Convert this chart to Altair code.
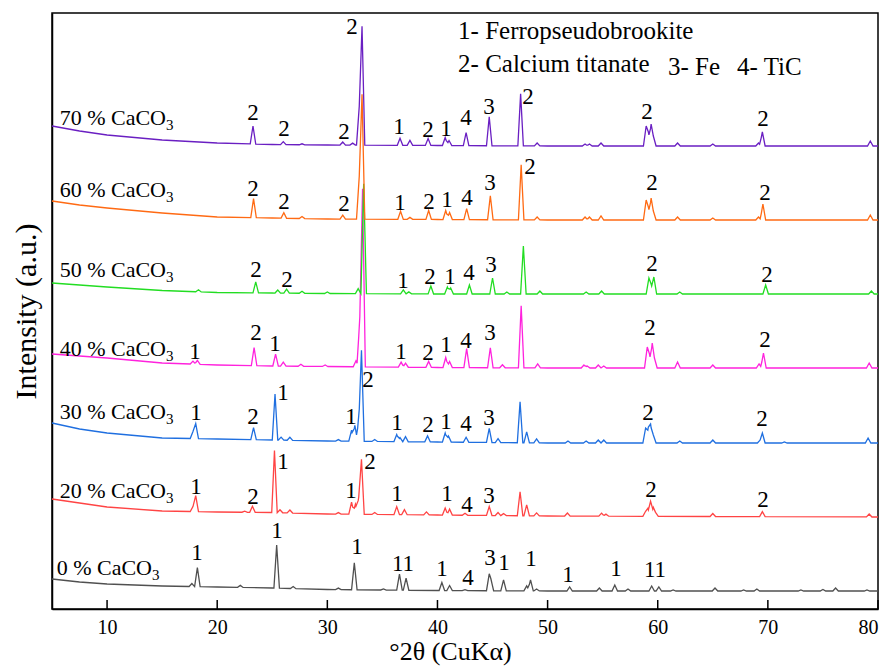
import altair as alt
import numpy as np
import pandas as pd

FONT = "Liberation Serif"

# ---------------- data ----------------
samples = ["0 % CaCO", "20 % CaCO", "30 % CaCO", "40 % CaCO", "50 % CaCO", "60 % CaCO", "70 % CaCO"]
colors = ["#505050", "#ff4444", "#1f6fe0", "#ff22dd", "#22dd22", "#ff6a13", "#6a1fc2"]
offsets = [18, 92, 166, 241, 315, 389, 463]

# low-angle background (added to the offset)
bg_theta = [5, 7.5, 10, 15, 20, 25, 30, 40, 50, 80]
bg_0 = [12, 9, 7, 5, 4, 3, 1.5, 0.5, 0, 0]
bg_20 = [18, 14, 10, 6, 5, 4.5, 3, 2, 1, 0]
bg_30 = [20, 14, 10, 5, 4, 3, 2, 1, 0, 0]
bg_40 = [14, 12, 10, 5, 3, 2, 1.5, 0.5, 0, 0]
bg_50 = [11, 9, 7, 3.5, 1.5, 1, 0.5, 0, 0, 0]
bg_60 = [19, 15, 12, 7, 3, 2, 1, 0.5, 0, 0]
bg_70 = [20, 15, 11, 6, 3, 1.5, 1, 0.5, 0, 0]

# peak positions (deg 2theta) and heights above background
pos_0 = [17.7, 18.2, 22.1, 25.4, 26.9, 31.0, 32.45, 35.1, 36.55, 37.15, 40.4, 41.1, 42.5, 44.7, 44.85, 46.0,
         48.1, 48.45, 49.0, 52.0, 54.7, 56.1, 57.3, 59.45, 60.1, 61.4, 65.2, 67.8, 69.0, 73.0, 75.0, 76.15, 79.0]
h_0 = [3, 19, 2, 43, 2, 1.5, 27, 1, 16, 12, 8, 5, 1, 17, 12, 11,
       5, 11, 2, 4, 3, 6, 2, 5, 4, 1, 3, 1, 2, 1, 1.5, 3, 1]

pos_20 = [17.8, 18.05, 22.5, 23.2, 25.2, 25.7, 26.6, 31.0, 32.2, 32.55, 32.85, 33.1, 34.3, 36.3, 37.0, 39.0,
          40.7, 41.1, 42.5, 44.7, 45.5, 46.0, 47.5, 48.1, 49.0, 51.8, 54.9, 55.3, 58.9, 59.1, 59.35, 59.6,
          59.8, 65.0, 69.5, 79.2]
h_20 = [5, 16, 1, 6, 62, 3, 3, 1.5, 12, 10, 17, 55, 2, 8, 5, 3,
        7, 6, 2, 9, 3, 2, 24, 11, 3, 3, 3, 2, 5, 8, 15, 9,
        4, 3, 5, 3]

pos_30 = [17.8, 18.05, 23.3, 25.25, 25.8, 26.6, 31.0, 32.2, 32.5, 32.9, 33.1, 34.3, 36.3, 36.6, 37.1, 39.1,
          40.7, 41.0, 42.6, 44.7, 45.5, 47.5, 48.1, 49.0, 51.85, 53.5, 54.6, 55.1, 58.9, 59.15, 59.35, 59.6,
          62.0, 65.0, 69.3, 69.5, 71.5, 79.1]
h_30 = [7, 15, 12, 46, 3, 3, 1.5, 11, 16, 32, 91, 2, 7, 4, 5, 6,
        9, 6, 5, 14, 4, 41, 11, 4, 2, 2, 3, 3, 15, 16, 19, 8,
        2, 3, 3, 10, 1, 5]

pos_40 = [17.8, 18.2, 23.35, 25.3, 26.0, 27.6, 29.8, 32.6, 32.95, 33.2, 36.7, 37.1, 39.2, 40.75, 41.1, 42.65,
          44.8, 45.9, 47.6, 49.1, 53.3, 53.6, 54.6, 55.1, 59.05, 59.25, 59.5, 59.7, 61.8, 65.0, 69.2, 69.6, 79.2]
h_40 = [3, 4, 18, 12, 4, 2, 1.5, 6, 50, 178, 5, 4, 6, 10, 6, 19,
        20, 3, 62, 4, 3, 2, 3, 2, 21, 14, 25, 10, 6, 3, 4, 15, 5]

pos_50 = [18.3, 23.5, 25.5, 26.3, 27.7, 30.0, 32.8, 33.3, 36.9, 37.4, 39.4, 40.9, 41.2, 42.9, 45.0, 46.3,
          47.8, 49.3, 53.5, 54.9, 59.2, 59.4, 59.65, 62.0, 69.8, 79.4]
h_50 = [2, 11, 3, 4, 2, 1.5, 5, 110, 4, 2, 8, 7, 6, 9, 16, 2,
        48, 3, 2, 3, 16, 10, 17, 2, 9, 3]

pos_60 = [23.3, 26.05, 27.7, 31.4, 32.9, 33.15, 36.65, 37.5, 39.2, 40.75, 41.1, 42.65, 44.8, 47.6, 49.05,
          53.4, 53.8, 54.85, 58.95, 59.15, 59.4, 59.6, 61.8, 65.0, 69.15, 69.55, 79.3]
h_60 = [19, 5.5, 2, 4, 43, 125, 8, 2, 9, 9, 7, 11, 24, 55, 3,
        3, 3, 4, 20, 13, 22, 9, 3, 2, 3, 16, 5]

pos_70 = [23.25, 26.0, 27.7, 31.4, 32.3, 32.9, 33.15, 36.6, 37.5, 39.15, 40.7, 41.05, 42.6, 44.7, 47.55,
          49.05, 53.4, 53.8, 54.85, 58.95, 59.15, 59.4, 59.6, 61.8, 65.0, 69.15, 69.5, 79.3]
h_70 = [18, 3, 1, 3, 2, 39, 119, 7, 5, 7, 8, 5, 13, 29, 52,
        3, 2, 2, 3, 20, 14, 22, 10, 3, 2, 3, 14, 5]

# phase labels: 2theta, intensity, text
lab_theta = [23.25, 26.07, 31.51, 32.24, 36.51, 39.14, 40.78, 42.59, 44.68, 48.22, 59.03, 69.56,
             23.25, 26.07, 31.51, 36.60, 39.23, 40.87, 42.68, 44.77, 48.40, 59.48, 69.74,
             23.52, 26.34, 36.87, 39.32, 41.14, 42.86, 44.86, 59.48, 69.92,
             17.98, 23.52, 25.25, 36.69, 39.14, 40.78, 42.59, 44.77, 59.30, 69.74,
             18.08, 23.25, 25.98, 32.15, 33.69, 36.33, 39.14, 40.78, 42.59, 44.68, 59.12, 69.47,
             18.08, 23.25, 25.98, 32.15, 33.88, 36.33, 40.87, 42.68, 44.68, 59.39, 69.56,
             18.17, 25.43, 32.69, 36.87, 40.41, 42.77, 44.77, 46.04, 48.49, 51.85, 56.21, 59.75]
lab_I = [496, 480, 477, 582, 482, 479, 480, 491, 502, 512, 497, 490,
         420, 407, 405, 406, 407, 409, 411, 426, 442, 426, 416,
         339, 329, 328, 332, 332, 336, 344, 345, 334,
         257, 276, 265, 257, 256, 264, 268, 276, 281, 269,
         196, 192, 216, 192, 229, 186, 184, 187, 185, 191, 196, 190,
         122, 112, 147, 118, 147, 115, 115, 104, 113, 119, 109,
         56, 78, 62, 45, 40, 31, 51, 46, 50, 34, 40, 39]
lab_text = ["2", "2", "2", "2", "1", "2", "1", "4", "3", "2", "2", "2",
            "2", "2", "2", "1", "2", "1", "4", "3", "2", "2", "2",
            "2", "2", "1", "2", "1", "4", "3", "2", "2",
            "1", "2", "1", "1", "2", "1", "4", "3", "2", "2",
            "1", "2", "1", "1", "2", "1", "2", "1", "4", "3", "2", "2",
            "1", "2", "1", "1", "2", "1", "1", "4", "3", "2", "2",
            "1", "1", "1", "11", "1", "4", "3", "1", "1", "1", "1", "11"]

# sample-name anchors (end of "CaCO", where the subscript starts)
name_theta = [14.08, 15.35, 15.35, 15.35, 15.35, 15.35, 15.35]
name_I = [34, 111, 190, 253, 332, 412, 484]

legend_text = ["1- Ferropseudobrookite", "2- Calcium titanate", "3- Fe", "4- TiC"]
legend_theta = [41.87, 41.87, 60.93, 67.2]
legend_I = [570, 537, 534, 534]

tick_vals = [10, 20, 30, 40, 50, 60, 70, 80]

# ---------------- build tables ----------------
HW = 0.25
pos_all = [pos_0, pos_20, pos_30, pos_40, pos_50, pos_60, pos_70]
h_all = [h_0, h_20, h_30, h_40, h_50, h_60, h_70]
bg_all = [bg_0, bg_20, bg_30, bg_40, bg_50, bg_60, bg_70]

frames = []
for k, name in enumerate(samples):
    pos, hts = pos_all[k], h_all[k]
    xs = set(bg_theta)
    for p in pos:
        xs.update([round(p - HW, 3), p, round(p + HW, 3)])
    xs = np.array(sorted(x for x in xs if 5 <= x <= 80))
    base = offsets[k] + np.interp(xs, bg_theta, bg_all[k])
    prof = np.zeros_like(xs)
    for p, h in zip(pos, hts):
        prof = np.maximum(prof, h * np.clip(1 - np.abs(xs - p) / HW, 0, None))
    frames.append(pd.DataFrame({"theta": xs, "I": base + prof, "sample": name, "k": k}))
lines_df = pd.concat(frames, ignore_index=True)

labels_df = pd.DataFrame({"theta": lab_theta, "I": lab_I, "text": lab_text})
names_df = pd.DataFrame({"theta": name_theta, "I": name_I, "text": samples, "sub": "3"})
legend_df = pd.DataFrame({"theta": legend_theta, "I": legend_I, "text": legend_text})
ticks_df = pd.DataFrame({"theta": tick_vals})

W, H = 826, 596
xscale = alt.Scale(domain=[5, 80], nice=False, zero=False)
yscale = alt.Scale(domain=[0, 596], nice=False, zero=False)

xaxis = alt.Axis(values=tick_vals, tickSize=0, labelFont=FONT, labelFontSize=20, labelColor="black",
                 labelPadding=8, domainColor="black", domainWidth=1.5, grid=False,
                 title="°2θ (CuKα)", titleFont=FONT, titleFontSize=26, titleFontWeight="normal",
                 titleColor="black", titleBaseline="alphabetic", titleAlign="center",
                 titleX=398, titleY=50)
yaxis = alt.Axis(labels=False, ticks=False, domainColor="black", domainWidth=1.5, grid=False,
                 title="Intensity (a.u.)", titleFont=FONT, titleFontSize=30, titleFontWeight="normal",
                 titleColor="black", titleBaseline="middle", titleX=-26)

lines = alt.Chart(lines_df).mark_line(strokeWidth=1.3).encode(
    x=alt.X("theta:Q", scale=xscale, axis=xaxis),
    y=alt.Y("I:Q", scale=yscale, axis=yaxis),
    color=alt.Color("sample:N", scale=alt.Scale(domain=samples, range=colors), legend=None),
    detail="sample:N",
)

tick_marks = alt.Chart(ticks_df).mark_rule(color="black", strokeWidth=1.5).encode(
    x=alt.X("theta:Q", scale=xscale),
    y=alt.value(H - 9),
    y2=alt.value(H),
)

peak_labels = alt.Chart(labels_df).mark_text(font=FONT, fontSize=23, color="black",
                                              align="center", baseline="middle").encode(
    x=alt.X("theta:Q", scale=xscale), y=alt.Y("I:Q", scale=yscale), text="text:N")

name_labels = alt.Chart(names_df).mark_text(font=FONT, fontSize=22, color="black",
                                             align="right", baseline="alphabetic").encode(
    x=alt.X("theta:Q", scale=xscale), y=alt.Y("I:Q", scale=yscale), text="text:N")

name_subs = alt.Chart(names_df).mark_text(font=FONT, fontSize=15, color="black",
                                           align="left", baseline="alphabetic", dy=5).encode(
    x=alt.X("theta:Q", scale=xscale), y=alt.Y("I:Q", scale=yscale), text="sub:N")

legend_labels = alt.Chart(legend_df).mark_text(font=FONT, fontSize=25, color="black",
                                                align="left", baseline="alphabetic").encode(
    x=alt.X("theta:Q", scale=xscale), y=alt.Y("I:Q", scale=yscale), text="text:N")

chart = alt.layer(lines, tick_marks, peak_labels, name_labels, name_subs, legend_labels).properties(
    width=W, height=H,
    autosize=alt.AutoSizeParams(type="none"),
    padding={"left": 52, "top": 13, "right": 15, "bottom": 57},
    background="white",
).configure_view(stroke="black", strokeWidth=1.5)

chart.save("out.html", embed_options={"renderer": "svg", "actions": False})
